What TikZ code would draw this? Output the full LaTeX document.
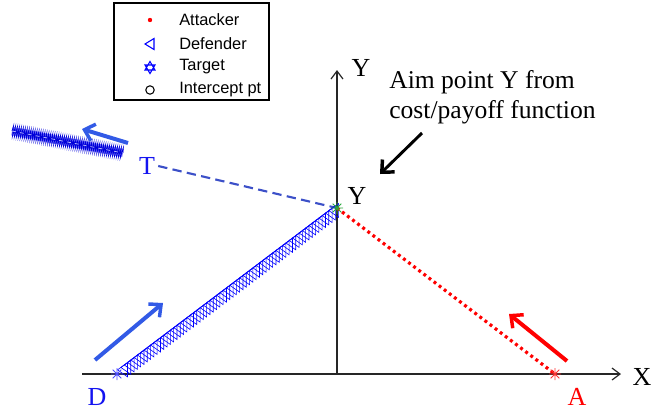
\documentclass[tikz,border=0pt]{standalone}
\usepackage{fontspec}
\setmainfont{Liberation Serif}
\newfontfamily\legendfont{Liberation Sans}
\usetikzlibrary{arrows.meta,decorations.pathmorphing,calc}
\definecolor{arrblue}{RGB}{50,90,230}
\definecolor{dashblue}{RGB}{60,80,200}
\definecolor{lblblue}{RGB}{20,20,240}
\definecolor{astgreen}{RGB}{40,170,60}
\tikzset{
  lbl/.style={font=\fontsize{19.5}{22}\selectfont, inner sep=0pt},
  axis/.style={line width=1.1pt, black!85, -{Straight Barb[length=6pt,width=9pt,line width=0.9pt]}},
  bigarrow/.style={line width=3pt, -{Straight Barb[length=7pt,width=13pt,line width=2.6pt]}},
  legtxt/.style={font=\legendfont\fontsize{12.3}{14}\selectfont, anchor=west, inner sep=0pt},
  pics/astr/.style={code={\draw[#1,line width=0.55pt] (-6,0)--(6,0) (0,-6)--(0,6) (-4.3,-4.3)--(4.3,4.3) (-4.3,4.3)--(4.3,-4.3);}},
  pics/deftri/.style={code={\draw[blue, line width=0.45pt] (5,-7) -- (-5,0) -- (5,7) -- cycle;}}
}
\begin{document}
\begin{tikzpicture}[x=0.75pt,y=-0.75pt]
\useasboundingbox (0,0) rectangle (654,412);
% points
\coordinate (O) at (337,374);
\coordinate (xs) at (82,374);
\coordinate (xe) at (621,374);
\coordinate (ye) at (337,70);
\coordinate (Y) at (337,208);
\coordinate (D) at (117,374);
\coordinate (A) at (555,374);
\coordinate (tb1) at (12,131);
\coordinate (tb2) at (123,153);
% axes
\draw[axis] (xs) -- (xe);
\draw[axis] (O) -- (ye);
\node[lbl] (xl) at (642,377) {X};
\node[lbl] (yl) at (361,68) {Y};
% target band
\draw[blue!45, line width=6.5pt] (tb1) -- (tb2);
\draw[blue!85!black, line width=0.6pt, decorate, decoration={zigzag, amplitude=3.6pt, segment length=1.5pt}] (tb1) -- (tb2);
\draw[blue!30!white, line width=0.6pt, dashed] (tb1) -- (tb2);
% T label and dashed line
\node[lbl, text=lblblue] (T) at (147,166) {T};
\draw[dashblue, line width=1.6pt, dash pattern=on 7pt off 4pt] (T.east) ++(3,0) -- (Y);
% defender path: triangle markers
\foreach \t in {0.025,0.04,...,0.99} {
  \pic at ($(D)!\t!(Y)$) {deftri};
}
% attacker path
\draw[red, line width=2.4pt, dash pattern=on 2.2pt off 2.6pt] (Y) -- (A);
% markers
\pic at (D) {astr=blue!70};
\pic at (A) {astr=red!80};
\pic at (Y) {astr=astgreen};
% labels
\node[lbl] (ylab) at (357,196) {Y};
\node[lbl, text=lblblue] (Dl) at (97,397) {D};
\node[lbl, text=red] (Al) at (577,397) {A};
% arrows
\coordinate (b1s) at (128,143);
\coordinate (b1e) at (82,129);
\coordinate (b2s) at (95,360);
\coordinate (b2e) at (163,303);
\coordinate (r1s) at (567,361);
\coordinate (r1e) at (509,314);
\coordinate (k1s) at (422,133);
\coordinate (k1e) at (380,174);
\draw[bigarrow, arrblue] (b1s) -- (b1e);
\draw[bigarrow, arrblue] (b2s) -- (b2e);
\draw[bigarrow, red] (r1s) -- (r1e);
\draw[bigarrow, black, line width=2.2pt] (k1s) -- (k1e);
\node[font=\fontsize{19.2}{22.5}\selectfont, align=left, anchor=west, inner sep=0pt] (aim) at (389,97) {Aim point Y from\\cost/payoff function};
% legend
\draw[line width=1.1pt, fill=white] (114,3) rectangle (269,100);
\fill[red] (150,20) circle (2.2);
\draw[blue, line width=0.8pt] (154,38.5) -- (145,44) -- (154,49.5) -- cycle;
\draw[blue, line width=0.8pt] (150,61.5) -- (155,70) -- (145,70) -- cycle (150,73.5) -- (155,65) -- (145,65) -- cycle;
\draw[black, line width=0.8pt] (150,90) circle (4.2);
\node[legtxt] (l1) at (179,20) {Attacker};
\node[legtxt] (l2) at (179,44) {Defender};
\node[legtxt] (l3) at (179,67) {Target};
\node[legtxt] (l4) at (179,90) {Intercept pt};
\end{tikzpicture}
\end{document}
